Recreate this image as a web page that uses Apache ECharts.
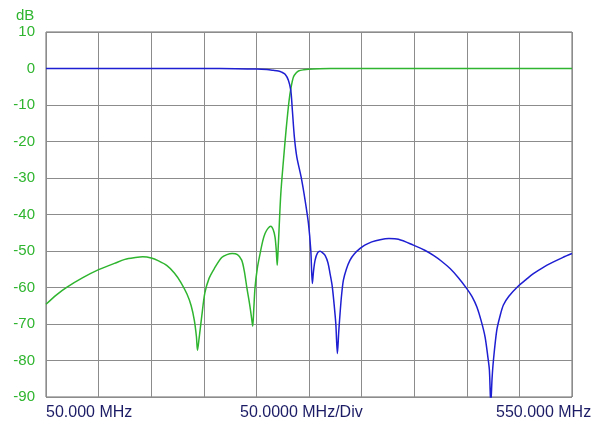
<!DOCTYPE html>
<html>
<head>
<meta charset="utf-8">
<script src="https://cdn.jsdelivr.net/npm/echarts@6/dist/echarts.min.js"></script>
<style>
  html, body { margin: 0; padding: 0; background: #fff; }
  #chart { width: 600px; height: 427px; }
</style>
</head>
<body>
<div id="chart"></div>
<script>
// frequency in MHz, level in dB
const greenFreq = [50, 60, 70, 85, 100, 115, 125, 135, 142, 150, 157, 165, 172, 178, 184, 188, 191, 193, 194,
  195.5, 198, 201, 205, 210, 217, 222, 227, 232, 236, 238.5, 241, 243.5, 245.5, 246.5, 247.5, 248.7, 251, 253.5,
  256, 258.2, 261, 263.7, 266, 267.7, 268.8, 269.8, 270.8, 271.5, 273.2, 275.7, 278.2, 281.1, 283, 285.2, 287.5,
  290, 295, 299.5, 310, 320, 350, 400, 450, 500, 550]
const greenDb = [-64.6, -62.0, -59.9, -57.3, -55.1, -53.4, -52.3, -51.8, -51.6, -51.9, -52.7, -54.0, -56.0, -58.5,
  -61.8, -65.0, -69.0, -73.5, -77.2, -74.0, -68.0, -61.5, -57.5, -54.8, -51.8, -51.0, -50.7, -51.0, -52.5, -55.5,
  -60.2, -64.5, -68.5, -70.6, -66.0, -60.0, -54.5, -50.7, -47.3, -45.2, -43.8, -43.2, -44.2, -46.2, -49.5, -53.9,
  -48.5, -44.3, -34.3, -25.2, -16.9, -8.7, -5.1, -2.3, -1.3, -0.7, -0.35, -0.2, -0.08, -0.03, 0, 0, 0, 0, 0]

const blueFreq = [50, 100, 150, 200, 230, 250, 260, 266, 270.9, 274, 277.3, 280.4, 282.7, 284.2, 286.1, 288.4,
  292.5, 296.3, 299.5, 301.7, 303.2, 304.3, 305.8, 308, 310.5, 313, 315.3, 318, 320, 322, 323.8, 325.5, 327,
  328.3, 329.5, 331, 332.7, 335.5, 339, 343, 348.6, 353, 359.7, 367.6, 376, 385, 399.2, 410, 418.3, 426, 434.1,
  442, 450, 455, 459.5, 464, 467.4, 470, 471.5, 472.8, 474, 475.3, 478.5, 481.6, 484.8, 490, 499, 506, 513.3,
  522, 532.4, 541, 550]
const blueDb = [0, 0, 0, -0.02, -0.06, -0.15, -0.3, -0.5, -0.7, -1.0, -1.6, -3.2, -6.0, -11.5, -18.8, -24.2,
  -29.7, -36.1, -42.5, -49.8, -58.9, -55.5, -52.5, -50.6, -50.1, -50.5, -51.2, -53.2, -56.2, -59.5, -64.4, -70,
  -78.1, -72, -67.2, -62, -58.0, -55.0, -52.5, -50.8, -49.3, -48.4, -47.5, -46.9, -46.6, -46.8, -48.4, -49.8,
  -51.2, -52.8, -54.8, -57.3, -60.3, -62.5, -65.3, -69.5, -73.6, -79, -82.7, -92, -85, -80, -71.7, -67.8, -64.8,
  -62.4, -59.6, -57.9, -56.2, -54.6, -53, -51.8, -50.7]

const startLabel = '50.000 MHz'
const divLabel = '50.0000 MHz/Div'
const stopLabel = '550.000 MHz'

function pairs(xs, ys) {
  return xs.map((x, i) => [x, ys[i]])
}

const font = '"Liberation Sans", Arial, sans-serif'
const green = '#2fb52f'
const navy = '#1c1c66'

const option = {
  backgroundColor: '#fff',
  animation: false,
  grid: {
    left: 46,
    right: 28,
    top: 32,
    bottom: 30,
    show: true,
    borderColor: '#6a6a6a',
    borderWidth: 1
  },
  xAxis: {
    type: 'value',
    min: 50,
    max: 550,
    interval: 50,
    axisLine: { show: false },
    axisTick: { show: false },
    axisLabel: { show: false },
    splitLine: { lineStyle: { color: '#8c8c8c', width: 1 } }
  },
  yAxis: {
    type: 'value',
    min: -90,
    max: 10,
    interval: 10,
    axisLine: { show: false },
    axisTick: { show: false },
    axisLabel: {
      color: green,
      fontSize: 15,
      fontFamily: font,
      margin: 11
    },
    splitLine: { lineStyle: { color: '#8c8c8c', width: 1 } }
  },
  graphic: [
    { type: 'text', left: 16, top: 8, style: { text: 'dB', fill: green, font: '15px ' + font } },
    { type: 'text', left: 46, top: 405, style: { text: startLabel, fill: navy, font: '16px ' + font } },
    { type: 'text', left: 240, top: 405, style: { text: divLabel, fill: navy, font: '16px ' + font } },
    { type: 'text', left: 496, top: 405, style: { text: stopLabel, fill: navy, font: '16px ' + font } }
  ],
  series: [
    {
      name: 'green',
      type: 'line',
      symbol: 'none',
      smooth: 0.3,
      clip: true,
      lineStyle: { color: green, width: 1.5 },
      data: pairs(greenFreq, greenDb)
    },
    {
      name: 'blue',
      type: 'line',
      symbol: 'none',
      smooth: 0.3,
      clip: true,
      lineStyle: { color: '#1e1ed2', width: 1.5 },
      data: pairs(blueFreq, blueDb)
    }
  ]
}

const chart = echarts.init(document.getElementById('chart'))
chart.setOption(option)
</script>
</body>
</html>
